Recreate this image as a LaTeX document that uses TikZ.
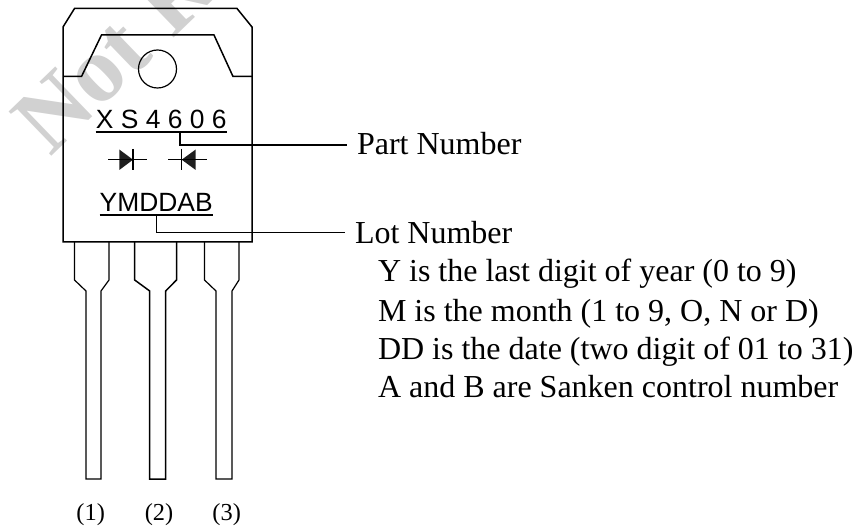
\documentclass[tikz,border=0pt]{standalone}
\usepackage{fontspec}
\setmainfont{Liberation Serif}
\newfontfamily\arialf{Liberation Sans}
\tikzset{
  lbl/.style={inner sep=0pt,outer sep=0pt,anchor=base west,font=\fontsize{32}{34}\selectfont},
  pin/.style={inner sep=0pt,outer sep=0pt,anchor=base,font=\fontsize{24.4}{26}\selectfont},
  mark text/.style={inner sep=0pt,outer sep=0pt,anchor=base,font=\arialf\fontsize{26.4}{28}\selectfont},
  outline/.style={line width=1.5pt,line join=miter},
  thin outline/.style={line width=1.2pt},
  leader/.style={line width=1.5pt},
  diode/.style={line width=1.2pt},
  watermark/.style={inner sep=0pt,anchor=base west,rotate=44,text=wm,font=\bfseries\fontsize{94}{94}\selectfont},
}
\definecolor{wm}{gray}{0.82}
\begin{document}
\begin{tikzpicture}[x=1pt,y=-1pt]
\useasboundingbox (0,0) rectangle (856,526);
\begin{scope}
\clip (0,0) rectangle (856,526);
\node[watermark] (wmk) at (50,158) {Not R};
\end{scope}
% body
\draw[outline] (63,242) -- (63,27) -- (74.5,8.5) -- (237,8.5) -- (252,27) -- (252,242) -- cycle;
\draw[outline] (63,76.5) -- (81.5,76.5) -- (101.5,35) -- (214,35) -- (233,76.5) -- (252,76.5);
\draw[thin outline] (157.5,69) circle (19);
% leads
\draw[thin outline] (74.5,242) -- (74.5,280) -- (86,291) -- (86,479) -- (101,479) -- (101,291) -- (109,280) -- (109,242);
\draw[outline] (134.7,242) -- (134.7,280) -- (149.7,291) -- (149.7,479) -- (165.7,479) -- (165.7,291) -- (176.5,280) -- (176.5,242);
\draw[thin outline] (204.5,242) -- (204.5,280) -- (216,291) -- (216,479) -- (232,479) -- (232,291) -- (239,280) -- (239,242);
% marking
\node[mark text] (partmark) at (161.2,129) {X S 4 6 0 6};
\node[mark text] (lotmark) at (156.2,211.5) {YMDDAB};
\coordinate (pl) at (95.7,131.8);
\coordinate (pr) at (227,131.8);
\coordinate (ps) at (180,131.8);
\coordinate (ll) at (99.5,215);
\coordinate (lr) at (213,215);
\coordinate (ls) at (156.7,215);
\draw[leader] (pl) -- (pr);
\draw[leader] (ll) -- (lr);
% diodes
\fill[black!88] (119.3,149.5) -- (133,159.7) -- (119.3,170) -- cycle;
\draw[diode] (108,159.7) -- (146.7,159.7);
\draw[diode] (133,149) -- (133,170.5);
\fill[black!88] (195.7,149.5) -- (181.7,159.7) -- (195.7,170) -- cycle;
\draw[diode] (168,159.7) -- (206.7,159.7);
\draw[diode] (181.7,149) -- (181.7,170.5);
% labels
\node[lbl] (part) at (357,155) {Part Number};
\node[lbl] (lot) at (355,244) {Lot Number};
\node[lbl] (ly) at (378,282) {Y is the last digit of year (0 to 9)};
\node[lbl] (lm) at (378,322) {M is the month (1 to 9, O, N or D)};
\node[lbl] (ld) at (378,359) {DD is the date (two digit of 01 to 31)};
\node[lbl] (la) at (378,397) {A and B are Sanken control number};
\draw[leader] (ps) |- ([xshift=-10pt,yshift=-0.8pt]part.west);
\draw[leader] (ls) |- ([xshift=-10pt,yshift=0.8pt]lot.west);
% pins
\node[pin] (p1) at (90.7,520) {(1)};
\node[pin] (p2) at (159,520) {(2)};
\node[pin] (p3) at (226.7,520) {(3)};
\end{tikzpicture}
\end{document}
